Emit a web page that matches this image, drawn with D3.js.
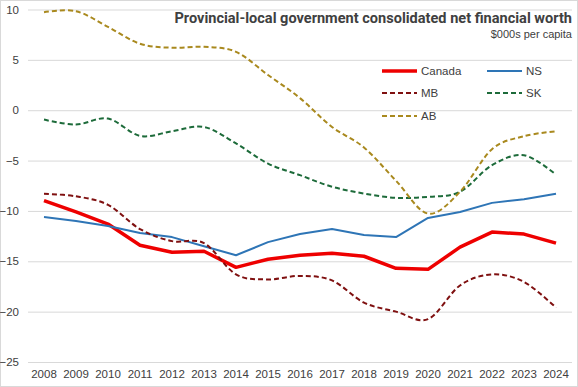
<!DOCTYPE html>
<html>
<head>
<meta charset="utf-8">
<script src="https://cdn.jsdelivr.net/npm/d3@7"></script>
<style>
  body { margin: 0; background: #fff; }
  svg text { font-family: "Liberation Sans", Arial, sans-serif; fill: #404040; }
</style>
</head>
<body>
<svg id="chart" width="578" height="387"></svg>
<script>
// data, $000s per capita
var years  = [2008,2009,2010,2011,2012,2013,2014,2015,2016,2017,2018,2019,2020,2021,2022,2023,2024];
var canada = [-8.97,-10.1,-11.3,-13.4,-14.1,-14.0,-15.6,-14.8,-14.4,-14.2,-14.5,-15.7,-15.8,-13.6,-12.1,-12.3,-13.2];
var ns     = [-10.6,-11.0,-11.5,-12.2,-12.6,-13.5,-14.4,-13.1,-12.3,-11.8,-12.4,-12.6,-10.7,-10.1,-9.2,-8.84,-8.3];
var mb     = [-8.3,-8.55,-9.4,-11.8,-13.0,-13.2,-16.3,-16.8,-16.45,-16.9,-19.1,-20.0,-20.75,-17.4,-16.3,-17.05,-19.6];
var sk     = [-0.93,-1.42,-0.83,-2.55,-2.09,-1.66,-3.3,-5.3,-6.45,-7.6,-8.27,-8.7,-8.6,-8.1,-5.46,-4.47,-6.4];
var ab     = [9.73,9.83,8.27,6.6,6.2,6.3,5.8,3.5,1.2,-1.66,-3.7,-7.0,-10.26,-8.1,-3.87,-2.58,-2.09];
var yTicks = [10,5,0,-5,-10,-15,-20,-25];

var series = [
  {name: "Canada", values: canada, color: "#ee0000", width: 3.5, dash: null, smooth: false},
  {name: "NS",     values: ns,     color: "#2e75b6", width: 2,   dash: null, smooth: false},
  {name: "MB",     values: mb,     color: "#7f1010", width: 2,   dash: "5,3", smooth: true},
  {name: "SK",     values: sk,     color: "#1d6b3a", width: 2,   dash: "5,3", smooth: true},
  {name: "AB",     values: ab,     color: "#a9891e", width: 2,   dash: "5,3", smooth: true}
];

var svg = d3.select("#chart"),
    WIDTH = 578,
    HEIGHT = 387,
    MARGINS = {top: 9.5, right: 6, bottom: 25, left: 28};

// outer frame
svg.append("rect")
   .attr("x", 0.5).attr("y", 0.5)
   .attr("width", WIDTH - 1).attr("height", HEIGHT - 1)
   .attr("fill", "#fff").attr("stroke", "#d9d9d9");

var xScale = d3.scaleBand().domain(years).range([MARGINS.left, WIDTH - MARGINS.right]),
    yScale = d3.scaleLinear().domain([-25, 10]).range([HEIGHT - MARGINS.bottom, MARGINS.top]);

// gridlines + y labels
var yAxis = d3.axisLeft(yScale)
   .tickValues(yTicks)
   .tickSize(-(WIDTH - MARGINS.right - MARGINS.left))
   .tickPadding(9);

var gy = svg.append("g")
   .attr("transform", "translate(" + MARGINS.left + ",0)")
   .call(yAxis);
gy.select(".domain").remove();
gy.selectAll("line").attr("stroke", "#d9d9d9");
gy.selectAll("text").attr("font-size", 11.5).attr("fill", "#404040").attr("x", -9);

// x labels
var xAxis = d3.axisBottom(xScale).tickSize(0).tickPadding(8);
var gx = svg.append("g")
   .attr("transform", "translate(0," + (HEIGHT - MARGINS.bottom) + ")")
   .call(xAxis);
gx.select(".domain").remove();
gx.selectAll("text").attr("font-size", 11.5).attr("fill", "#404040");

// lines
var lineGen = d3.line()
   .x(function(d, i) { return xScale(years[i]) + xScale.bandwidth() / 2; })
   .y(function(d) { return yScale(d); });

series.forEach(function(s) {
  lineGen.curve(s.smooth ? d3.curveCatmullRom.alpha(0) : d3.curveLinear);
  svg.append("path")
     .attr("d", lineGen(s.values))
     .attr("fill", "none")
     .attr("stroke", s.color)
     .attr("stroke-width", s.width)
     .attr("stroke-dasharray", s.dash)
     .attr("stroke-linejoin", "round");
});

// title - size it so it spans ~400px like the original
var title = svg.append("text")
   .attr("x", 572).attr("y", 23)
   .attr("text-anchor", "end")
   .attr("font-size", 15)
   .attr("font-weight", "bold")
   .style("font-family", "Roboto, sans-serif")
   .attr("fill", "#262626")
   .text("Provincial-local government consolidated net financial worth");
var tw = title.node().getComputedTextLength();
title.attr("font-size", Math.min(16, 15 * 398 / tw));

svg.append("text")
   .attr("x", 572).attr("y", 38)
   .attr("text-anchor", "end")
   .attr("font-size", 11)
   .attr("fill", "#404040")
   .text("$000s per capita");

// legend
var legendPos = [[382, 71], [487, 71], [382, 93], [487, 93], [382, 116]];
series.forEach(function(s, i) {
  var p = legendPos[i];
  svg.append("line")
     .attr("x1", p[0]).attr("x2", p[0] + 35)
     .attr("y1", p[1]).attr("y2", p[1])
     .attr("stroke", s.color)
     .attr("stroke-width", s.width)
     .attr("stroke-dasharray", s.dash);
  svg.append("text")
     .attr("x", p[0] + 39).attr("y", p[1] + 4)
     .attr("font-size", 11.5)
     .attr("fill", "#262626")
     .text(s.name);
});
</script>
</body>
</html>
